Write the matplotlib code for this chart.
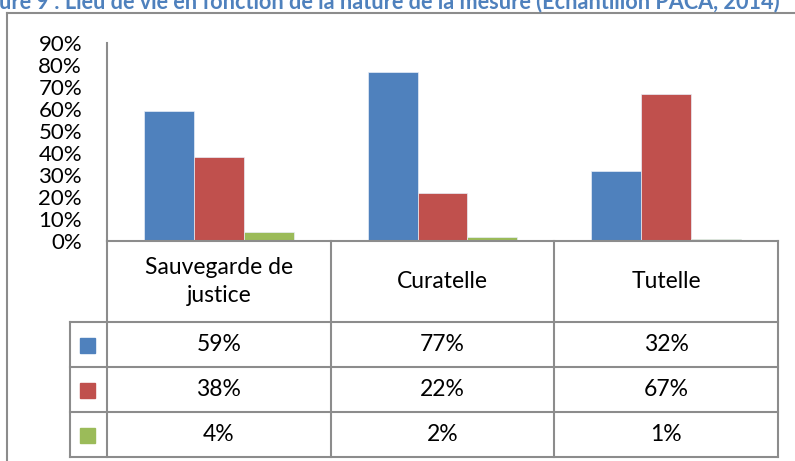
import matplotlib
matplotlib.use("Agg")
import matplotlib.pyplot as plt
from matplotlib.lines import Line2D
import numpy as np

categories = ["Sauvegarde de\njustice", "Curatelle", "Tutelle"]
series_blue = [59, 77, 32]
series_red = [38, 22, 67]
series_green = [4, 2, 1]
series = [series_blue, series_red, series_green]
colors = ["#4F81BD", "#C0504D", "#9BBB59"]
yticks = [0, 10, 20, 30, 40, 50, 60, 70, 80, 90]
title = "ure 9 : Lieu de vie en fonction de la nature de la mesure (Echantillon PACA, 2014)"

W, H = 795, 461
fig = plt.figure(figsize=(W / 100, H / 100), dpi=100)
plt.rcParams['font.family'] = ['Lato', 'DejaVu Sans']

def fx(px):
    return px / W

def fy(py):
    return 1 - py / H

GRAY = "#8C8C8C"
FS_TICK = 16
FS = 16.5

# bar axes
x_left, x_right = 107, 778
y_top, y_bot = 43, 241
ax = fig.add_axes([fx(x_left), fy(y_bot), fx(x_right) - fx(x_left), fy(y_top) - fy(y_bot)])
x = np.arange(len(categories))
bw = 0.2235
for i, (vals, c) in enumerate(zip(series, colors)):
    ax.bar(x + (i - 1) * bw, [v / 100 for v in vals], width=bw, color=c,
           edgecolor="#E8EEF7", linewidth=0.5, zorder=2)
ax.set_xlim(-0.5, 2.5)
ax.set_ylim(0, 0.9)
ax.set_yticks([t / 100 for t in yticks])
ax.set_yticklabels([f"{t}%" for t in yticks], fontsize=FS_TICK)
ax.tick_params(axis='y', length=0, pad=18)
ax.set_xticks([])
for s in ["top", "right", "bottom"]:
    ax.spines[s].set_visible(False)
ax.spines["left"].set_color(GRAY)
ax.spines["left"].set_linewidth(1.5)

# table axes
t_left = 70
t_bot = 457
tax = fig.add_axes([fx(t_left), fy(t_bot), fx(x_right) - fx(t_left), fy(y_bot) - fy(t_bot)])
unit = (x_right - x_left) / 3.0
xl = -0.5 - (x_left - t_left) / unit
tax.set_xlim(xl, 2.5)
hdr = 1.8
nrows = len(series)
tax.set_ylim(hdr + nrows, 0)
tax.axis("off")
lk = dict(color=GRAY, lw=1.5, solid_capstyle="projecting", clip_on=False)
tax.plot([-0.5, 2.5], [0, 0], **lk)
for b in [-0.5, 0.5, 1.5, 2.5]:
    tax.plot([b, b], [0, hdr + nrows], **lk)
tax.plot([xl, xl], [hdr, hdr + nrows], **lk)
for r in range(nrows + 1):
    tax.plot([xl, 2.5], [hdr + r, hdr + r], **lk)
for j, cat in enumerate(categories):
    tax.text(j, hdr / 2, cat, ha="center", va="center", fontsize=FS, linespacing=1.4)
for r, (vals, c) in enumerate(zip(series, colors)):
    tax.plot([(xl - 0.5) / 2 - 0.005], [hdr + r + 0.5], marker="s", markersize=10.8,
             color=c, linestyle="none", clip_on=False)
    for j, v in enumerate(vals):
        tax.text(j, hdr + r + 0.5, f"{v}%", ha="center", va="center", fontsize=FS)

# outer frame
fig.add_artist(Line2D([fx(7), fx(7)], [fy(13), fy(470)], color=GRAY, lw=1.5))
fig.add_artist(Line2D([fx(7), fx(800)], [fy(13), fy(13)], color=GRAY, lw=1.5))

# clipped title
fig.text(fx(-1), fy(8), title, ha="left", va="baseline", fontsize=15.6,
         fontweight="bold", color="#4F81BD")

fig.savefig("out.png", dpi=100)
